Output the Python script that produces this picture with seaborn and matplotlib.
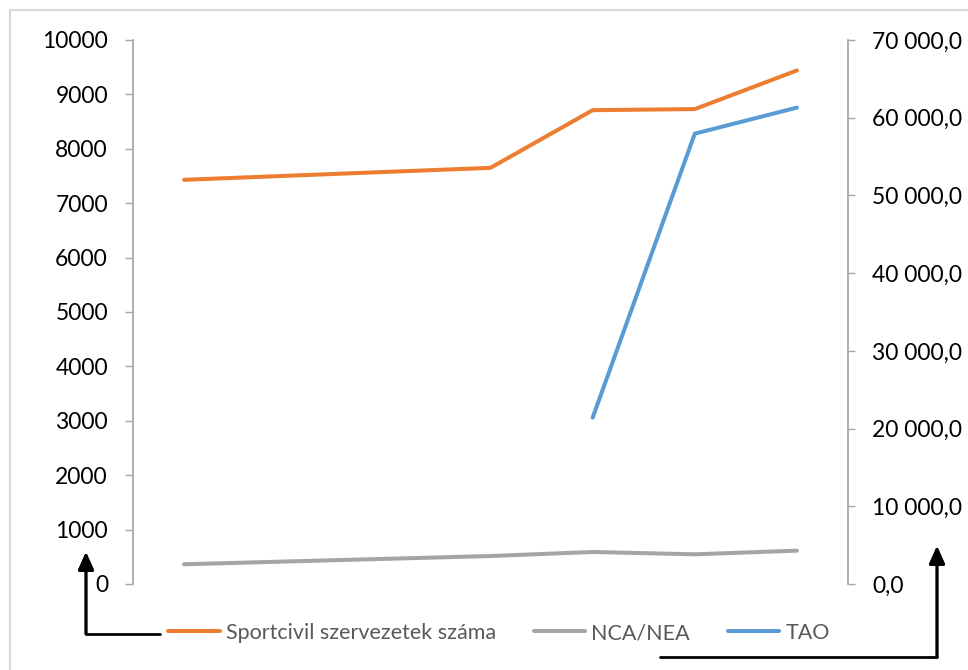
import matplotlib
matplotlib.use("Agg")
import matplotlib.pyplot as plt
import matplotlib.ticker as mticker
from matplotlib.lines import Line2D
from matplotlib.patches import Rectangle
import pandas as pd
import seaborn as sns

# data
years = [2008, 2011, 2012, 2013, 2014]
sportcivil = [7430, 7650, 8710, 8730, 9440]      # left axis
nca_nea = [2540, 3600, 4120, 3820, 4290]         # right axis
tao_years = [2012, 2013, 2014]
tao = [21400, 57950, 61300]                      # right axis

left_ticks = list(range(0, 10001, 1000))
right_ticks = list(range(0, 70001, 10000))

ORANGE = "#ED7D31"
GRAY = "#A5A5A5"
BLUE = "#5B9BD5"
AXIS = "#A6A6A6"

sns.set_theme(style="white")
plt.rcParams["font.family"] = ["Lato", "DejaVu Sans"]

df_main = pd.DataFrame({"ev": years, "sport": sportcivil, "nca": nca_nea})
df_tao = pd.DataFrame({"ev": tao_years, "tao": tao})

W, H = 968, 670
fig = plt.figure(figsize=(W / 100, H / 100), dpi=100)
ax = fig.add_axes([133 / W, 1 - 584 / H, 715 / W, 544 / H])
ax2 = ax.twinx()

sns.lineplot(data=df_main, x="ev", y="sport", ax=ax, color=ORANGE, lw=2.9,
             solid_capstyle="round")
sns.lineplot(data=df_main, x="ev", y="nca", ax=ax2, color=GRAY, lw=2.9,
             solid_capstyle="round")
sns.lineplot(data=df_tao, x="ev", y="tao", ax=ax2, color=BLUE, lw=2.9,
             solid_capstyle="round")

ax.set_xlim(2007.5, 2014.5)
ax.set_ylim(0, 10000)
ax2.set_ylim(0, 70000)
ax.set_yticks(left_ticks)
ax2.set_yticks(right_ticks)
ax2.yaxis.set_major_formatter(
    mticker.FuncFormatter(lambda v, p: f"{v:,.1f}".replace(",", " ").replace(".", ",")))
ax.set_xticks([])
for a in (ax, ax2):
    a.set_xlabel("")
    a.set_ylabel("")
    a.grid(False)
    for s in a.spines.values():
        s.set_visible(False)
ax.spines["left"].set_visible(True)
ax.spines["left"].set_color(AXIS)
ax2.spines["right"].set_visible(True)
ax2.spines["right"].set_color(AXIS)
ax.tick_params(axis="y", left=True, length=6, width=1, color=AXIS, pad=12,
               labelsize=16.5, labelcolor="black")
ax2.tick_params(axis="y", right=True, length=5, width=1, color=AXIS, pad=12.5,
                labelsize=16.5, labelcolor="black")

handles = [Line2D([], [], color=c, lw=2.9) for c in (ORANGE, GRAY, BLUE)]
fig.legend(handles, ["Sportcivil szervezetek száma", "NCA/NEA", "TAO"],
           loc="center", bbox_to_anchor=(499 / W, 1 - 633 / H), ncol=3,
           frameon=False, fontsize=15.5, handlelength=2.4, handletextpad=0.28,
           columnspacing=1.75, labelcolor="#595959")

# outer chart frame
fig.add_artist(Rectangle((10 / W, -0.2), 1.2, 1 - 10 / H + 0.2, transform=fig.transFigure,
                         fill=False, edgecolor="#D9D9D9", lw=1.5))

# arrows pointing from the legend to the axes
fig.add_artist(Line2D([160 / W, 86 / W], [1 - 634 / H, 1 - 634 / H],
                      transform=fig.transFigure, color="black", lw=2))
fig.add_artist(Line2D([660 / W, 937 / W], [1 - 657 / H, 1 - 657 / H],
                      transform=fig.transFigure, color="black", lw=2))
arrow = dict(arrowstyle="-|>,head_length=0.9,head_width=0.4", color="black", lw=2,
             shrinkA=0, shrinkB=0)
fig.add_artist(plt.annotate("", xy=(86 / W, 1 - 552 / H), xytext=(86 / W, 1 - 634 / H),
                            xycoords="figure fraction", arrowprops=arrow))
fig.add_artist(plt.annotate("", xy=(937 / W, 1 - 546 / H), xytext=(937 / W, 1 - 657 / H),
                            xycoords="figure fraction", arrowprops=arrow))

fig.savefig("out.png", dpi=100)
